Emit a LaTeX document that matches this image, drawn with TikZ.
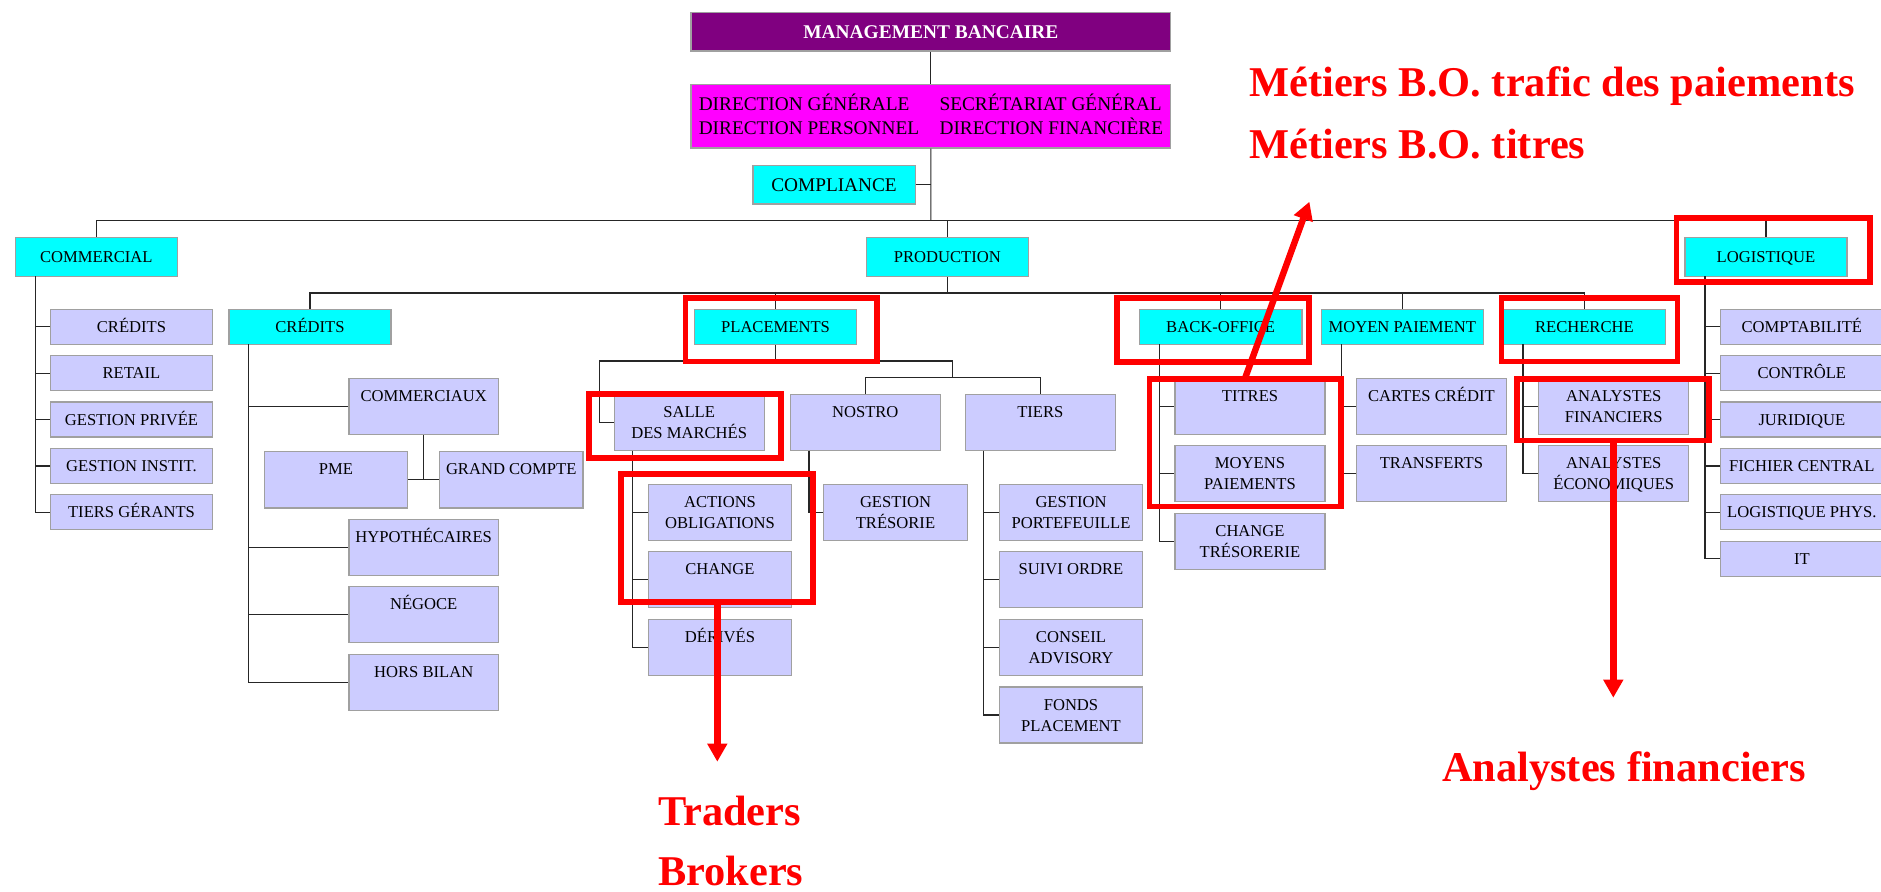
\documentclass[tikz,border=0pt]{standalone}
\usepackage{fontspec}
\setmainfont{Liberation Serif}
\usetikzlibrary{arrows.meta}
\definecolor{lav}{HTML}{CCCCFF}
\definecolor{cyn}{HTML}{00FFFF}
\definecolor{purp}{HTML}{800080}
\definecolor{mag}{HTML}{FF00FF}
\definecolor{bord}{HTML}{A0A0A0}
\definecolor{redc}{HTML}{FF0000}
\definecolor{lnc}{HTML}{262626}
\newcommand\twol[1]{\begin{tabular}[t]{@{}c@{}}#1\end{tabular}}
% style, name, x1, y1, x2, y2, text
\newcommand\bx[7]{\node[#1, minimum width={(#5-#3)/2}, minimum height={(#6-#4)/2}] (#2) at ({(#3+#5)/2},{(#4+#6)/2}) {\twol{#7}};}
% red frame: name, x1, y1, x2, y2 (centre line)
\newcommand\rbx[5]{\node[redbox, minimum width={(#4-#2)/2}, minimum height={(#5-#3)/2}] (#1) at ({(#2+#4)/2},{(#3+#5)/2}) {};}
\tikzset{
  box/.style={draw=bord, line width=0.6pt, inner sep=0pt, font=\fontsize{8.3}{10.5}\selectfont},
  cen/.style={text height=5.5pt, text depth=0pt},
  topt/.style={text height=11.5pt, text depth=16.5pt},
  lavs/.style={box, fill=lav, cen},
  lavt/.style={box, fill=lav, topt},
  cyns/.style={box, fill=cyn, cen},
  conn/.style={draw=lnc, line width=0.6pt},
  redbox/.style={draw=redc, line width=2.9pt, inner sep=0pt},
  redarrow/.style={draw=redc, line width=3.2pt, -{Triangle[width=9.5pt,length=9pt]}},
  redtxt/.style={text=redc, inner sep=0pt, font=\fontsize{21.2}{25}\selectfont\bfseries},
  dtxt/.style={inner sep=0pt, font=\fontsize{9.65}{11}\selectfont}
}
\begin{document}
\begin{tikzpicture}[x=0.5pt,y=-0.5pt]
\useasboundingbox (0,0) rectangle (1881,891);
\clip (0,0) rectangle (1881,891);

% ---------- top levels
\bx{box, fill=purp, text=white, font=\fontsize{9.7}{11}\selectfont\bfseries, text height=6.4pt, text depth=0pt}{mgmt}{691}{12.3}{1170.7}{51}{MANAGEMENT BANCAIRE}
\bx{box, fill=mag}{dir}{691}{84.3}{1170.7}{148}{}
\node[dtxt, anchor=base west] (d1) at (698.4,110) {DIRECTION GÉNÉRALE};
\node[dtxt, anchor=base east] (d2) at (1162,110) {SECRÉTARIAT GÉNÉRAL};
\node[dtxt, anchor=base west] (d3) at (698.4,134.3) {DIRECTION PERSONNEL};
\node[dtxt, anchor=base east] (d4) at (1163.5,134.3) {DIRECTION FINANCIÈRE};
\bx{box, fill=cyn, font=\fontsize{9.65}{11}\selectfont, text height=6.4pt, text depth=0pt}{compl}{753}{165.3}{915.1}{204}{COMPLIANCE}

\bx{cyns}{commercial}{15.2}{237.3}{177.4}{276.3}{COMMERCIAL}
\bx{cyns}{production}{866.6}{237.3}{1028.2}{276.3}{PRODUCTION}
\bx{cyns}{logistique}{1685}{237.3}{1847}{276.3}{LOGISTIQUE}

% ---------- commercial children
\bx{lavs}{cc1}{50.3}{309.3}{212.7}{344.3}{CRÉDITS}
\bx{lavs}{cc2}{50.3}{355.7}{212.7}{390.7}{RETAIL}
\bx{lavs}{cc3}{50.3}{402.0}{212.7}{437.0}{GESTION PRIVÉE}
\bx{lavs}{cc4}{50.3}{448.4}{212.7}{483.4}{GESTION INSTIT.}
\bx{lavs}{cc5}{50.3}{494.8}{212.7}{529.8}{TIERS GÉRANTS}

% ---------- production level
\bx{cyns}{credits}{229}{309.3}{391}{344.3}{CRÉDITS}
\bx{cyns}{placements}{694.3}{309.3}{856.8}{344.3}{PLACEMENTS}
\bx{cyns}{backoffice}{1139.3}{309.3}{1302}{344.3}{BACK-OFFICE}
\bx{cyns}{moyenpaiement}{1321.3}{309.3}{1483.3}{344.3}{MOYEN PAIEMENT}
\bx{cyns}{recherche}{1503.5}{309.3}{1665.3}{344.3}{RECHERCHE}

% ---------- credits children
\bx{lavt}{commerciaux}{349}{378.3}{498.4}{434.3}{COMMERCIAUX}
\bx{lavt}{pme}{264.5}{451.7}{407.4}{508}{PME}
\bx{lavt}{grandcompte}{439.6}{451.7}{582.9}{508}{GRAND COMPTE}
\bx{lavt}{hypothecaires}{349}{519.3}{498.4}{575.3}{HYPOTHÉCAIRES}
\bx{lavt}{negoce}{349}{586.7}{498.4}{642.7}{NÉGOCE}
\bx{lavt}{horsbilan}{349}{654.7}{498.4}{710.7}{HORS BILAN}

% ---------- placements children
\bx{lavt}{salle}{614.3}{394.3}{764.1}{450.7}{SALLE\\DES MARCHÉS}
\bx{lavt}{nostro}{790.2}{394.3}{940.3}{450.7}{NOSTRO}
\bx{lavt}{tiers}{965.3}{394.3}{1115.3}{450.7}{TIERS}
\bx{lavt}{actions}{648.6}{484.2}{791.4}{540.2}{ACTIONS\\OBLIGATIONS}
\bx{lavt}{change}{648.6}{551.7}{791.4}{607.7}{CHANGE}
\bx{lavt}{derives}{648.6}{619.3}{791.4}{675.3}{DÉRIVÉS}
\bx{lavt}{gesttres}{823.7}{484.2}{967.3}{540.2}{GESTION\\TRÉSORIE}
\bx{lavt}{gestport}{999.4}{484.2}{1142.6}{540.2}{GESTION\\PORTEFEUILLE}
\bx{lavt}{suivi}{999.4}{551.7}{1142.6}{607.7}{SUIVI ORDRE}
\bx{lavt}{conseil}{999.4}{619.3}{1142.6}{675.3}{CONSEIL\\ADVISORY}
\bx{lavt}{fonds}{999.4}{687}{1142.6}{743}{FONDS\\PLACEMENT}

% ---------- back-office, moyen paiement, recherche children
\bx{lavt}{titres}{1175}{378.3}{1325}{434.3}{TITRES}
\bx{lavt}{moyens}{1175}{445.7}{1325}{501.7}{MOYENS\\PAIEMENTS}
\bx{lavt}{changetres}{1175}{513.3}{1325}{569.3}{CHANGE\\TRÉSORERIE}
\bx{lavt}{cartes}{1356.3}{378.3}{1506.5}{434.3}{CARTES CRÉDIT}
\bx{lavt}{transferts}{1356.3}{445.7}{1506.5}{501.7}{TRANSFERTS}
\bx{lavt}{anfin}{1538.8}{378.3}{1688.8}{434.3}{ANALYSTES\\FINANCIERS}
\bx{lavt}{aneco}{1538.8}{445.7}{1688.8}{501.7}{ANALYSTES\\ÉCONOMIQUES}

% ---------- logistique children
\bx{lavs}{lc1}{1720.7}{309.3}{1883}{344.3}{COMPTABILITÉ}
\bx{lavs}{lc2}{1720.7}{355.7}{1883}{390.7}{CONTRÔLE}
\bx{lavs}{lc3}{1720.7}{402.0}{1883}{437.0}{JURIDIQUE}
\bx{lavs}{lc4}{1720.7}{448.4}{1883}{483.4}{FICHIER CENTRAL}
\bx{lavs}{lc5}{1720.7}{494.8}{1883}{529.8}{LOGISTIQUE PHYS.}
\bx{lavs}{lc6}{1720.7}{541.2}{1883}{576.2}{IT}

% ---------- connectors
\coordinate (b1) at (930.85,220.5);
\draw[conn] (mgmt) -- (dir);
\draw[conn] (dir.south) -- (b1);
\draw[conn] (compl.east) -- (compl.east -| b1);
\draw[conn] (commercial.north) |- (b1) -| (logistique.north);
\draw[conn] (b1 -| production.north) -- (production.north);

\coordinate (b2) at (947.4,292.9);
\draw[conn] (production.south) -- (b2);
\draw[conn] (credits.north) |- (b2) -| (recherche.north);
\foreach \n in {placements,backoffice,moyenpaiement}
  \draw[conn] (b2 -| \n.north) -- (\n.north);

\coordinate (cs) at (35.4,276.3);
\draw[conn] (cs) |- (cc5.west);
\foreach \n in {cc1,cc2,cc3,cc4} \draw[conn] (cs |- \n.west) -- (\n.west);

\coordinate (crs) at (248.6,344.3);
\draw[conn] (crs) |- (horsbilan.west);
\foreach \n in {commerciaux,hypothecaires,negoce} \draw[conn] (crs |- \n.west) -- (\n.west);
\draw[conn] (commerciaux.south) -- (commerciaux.south |- pme.east);
\draw[conn] (pme.east) -- (grandcompte.west);

\coordinate (pl) at (599.2,361);
\coordinate (pr) at (952.3,361);
\coordinate (nt) at (952.3,377.3);
\draw[conn] (placements.south) -- (placements.south |- pl);
\draw[conn] (salle.west) -| (pl) -- (pr) -- (nt);
\draw[conn] (nostro.north) |- (nt);
\draw[conn] (tiers.north) |- (nt);

\coordinate (ss) at (632.3,450.7);
\draw[conn] (ss) |- (derives.west);
\foreach \n in {actions,change} \draw[conn] (ss |- \n.west) -- (\n.west);
\coordinate (ns) at (809,450.7);
\draw[conn] (ns) |- (gesttres.west);
\coordinate (ts) at (983.7,450.7);
\draw[conn] (ts) |- (fonds.west);
\foreach \n in {gestport,suivi,conseil} \draw[conn] (ts |- \n.west) -- (\n.west);

\coordinate (bs) at (1159.3,344.3);
\draw[conn] (bs) |- (changetres.west);
\foreach \n in {titres,moyens} \draw[conn] (bs |- \n.west) -- (\n.west);
\coordinate (ms) at (1341.3,344.3);
\draw[conn] (ms) |- (transferts.west);
\draw[conn] (ms |- cartes.west) -- (cartes.west);
\coordinate (rs) at (1522.9,344.3);
\draw[conn] (rs) |- (aneco.west);
\draw[conn] (rs |- anfin.west) -- (anfin.west);
\coordinate (ls) at (1705,276.3);
\draw[conn] (ls) |- (lc6.west);
\foreach \n in {lc1,lc2,lc3,lc4,lc5} \draw[conn] (ls |- \n.west) -- (\n.west);

% ---------- red highlight frames
\rbx{rLOG}{1676.4}{217.9}{1869.8}{281.6}
\rbx{rPLA}{685.4}{297.9}{876.7}{361.4}
\rbx{rSAL}{588.9}{393.9}{781.2}{458.1}
\rbx{rACT}{621.3}{474.2}{813.1}{601.8}
\rbx{rBO}{1117.2}{297.9}{1309.1}{362.1}
\rbx{rTIT}{1149.4}{378.6}{1341.1}{506.4}
\rbx{rREC}{1501.4}{297.9}{1677.4}{361.4}
\rbx{rANF}{1517.3}{378.6}{1708.8}{440.4}

% ---------- red arrows
\coordinate (tt) at (717.3,761.7);
\draw[redarrow] (rACT.south -| tt) -- (tt);
\coordinate (at) at (1613.3,697.7);
\draw[redarrow] (rANF.south -| at) -- (at);
\coordinate (mst) at (1245.5,377);
\coordinate (mt) at (1309.4,201.7);
\draw[redarrow] (mst) -- (mt);

% ---------- red texts
\node[redtxt, anchor=base west] (rt1) at (1249,96.7) {Métiers B.O. trafic des paiements};
\node[redtxt, anchor=base west] (rt2) at (1249,158.3) {Métiers B.O. titres};
\node[redtxt, anchor=base west] (rt3) at (657.7,825.5) {Traders};
\node[redtxt, anchor=base west] (rt4) at (657.7,885.5) {Brokers};
\node[redtxt, anchor=base west] (rt5) at (1441.7,781.7) {Analystes financiers};
\end{tikzpicture}
\end{document}
